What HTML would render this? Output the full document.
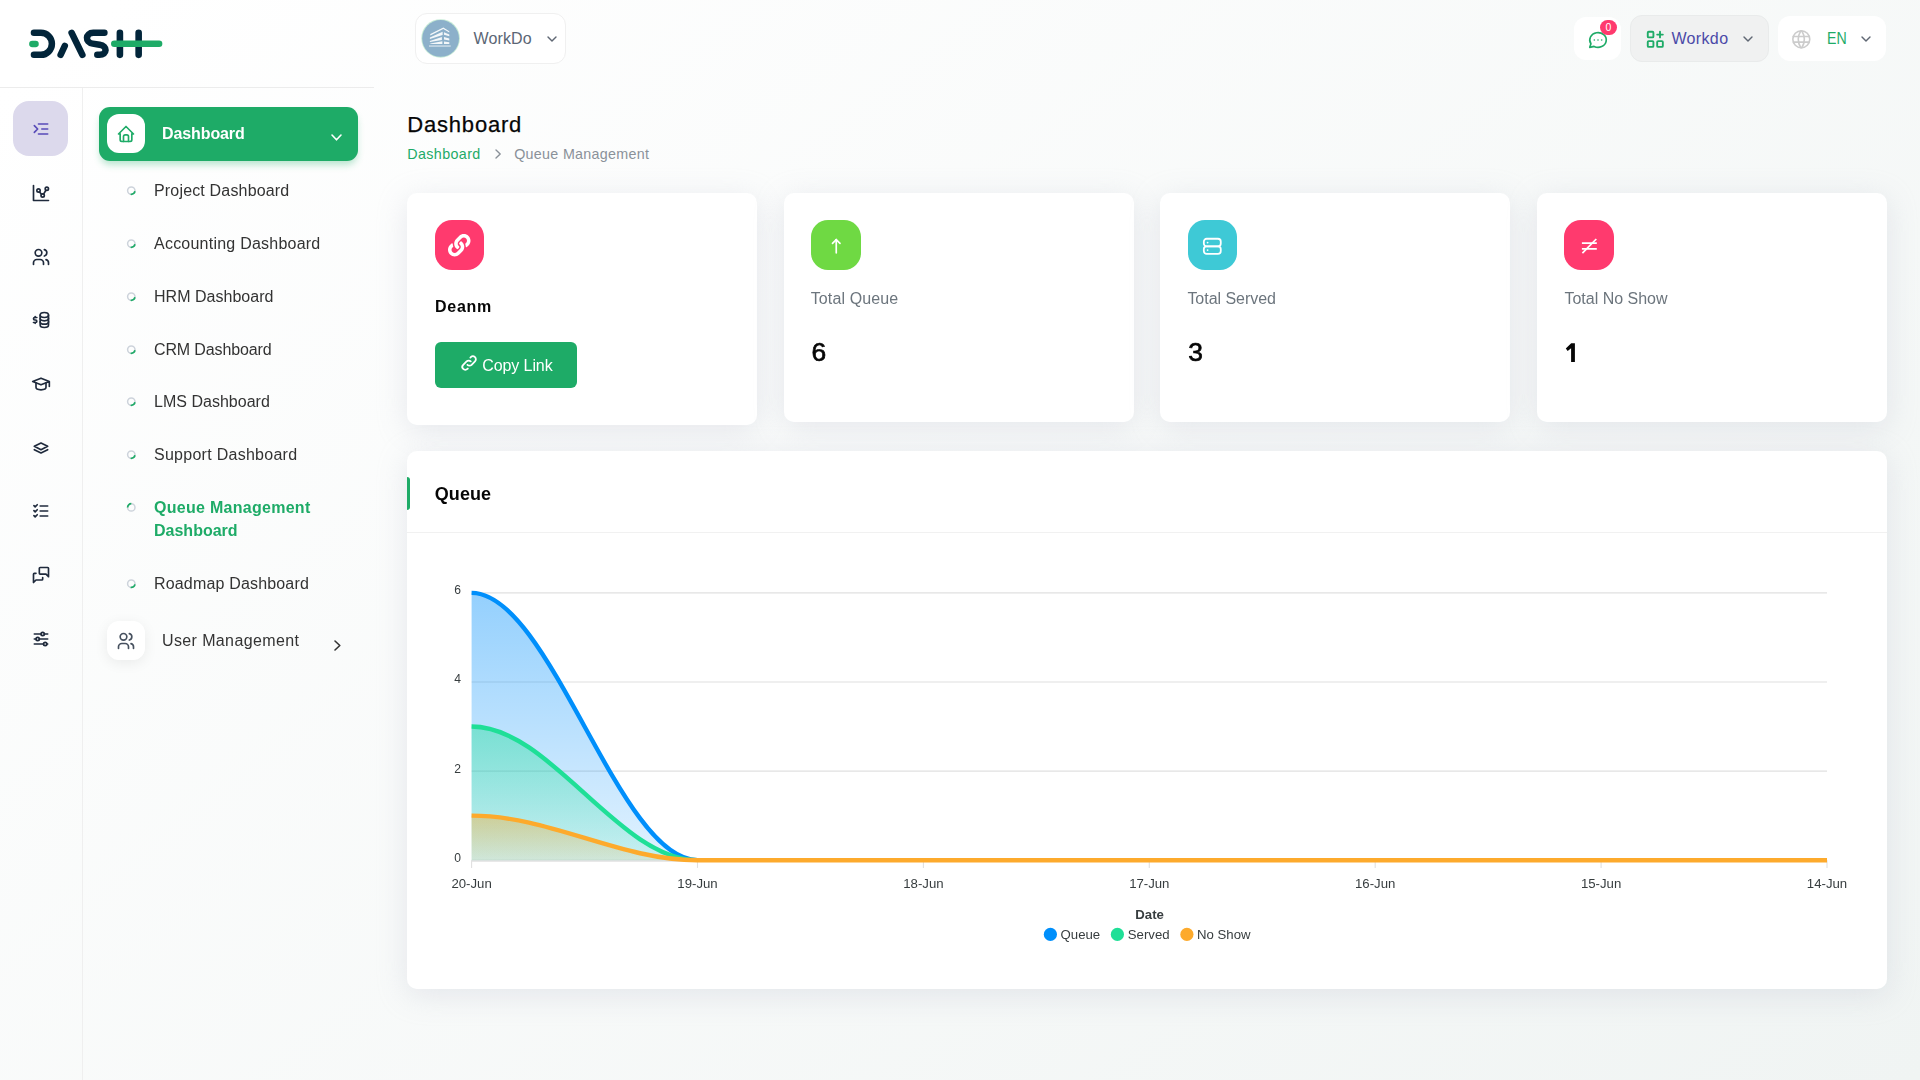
<!DOCTYPE html>
<html lang="en"><head><meta charset="utf-8"><title>Dashboard</title>
<style>
*{box-sizing:border-box}
html,body{margin:0;padding:0}
body{width:1920px;height:1080px;overflow:hidden;position:relative;font-family:"Liberation Sans",sans-serif;
background:linear-gradient(141.55deg,rgba(240,244,243,0) 3.46%,#f0f4f3 99.86%),#fff;}
.abs,.ic,.t{position:absolute}
.ic{display:block;overflow:visible}
.t{white-space:nowrap;line-height:1;}
.sub{will-change:transform}
.card{position:absolute;background:#fff;border-radius:10px;box-shadow:0 6px 30px rgba(182,186,203,.3)}
.ib{position:absolute;border-radius:17px}
</style></head><body>

<div class="abs" style="left:0;top:87px;width:374px;height:1px;background:#ececec"></div>
<div class="abs" style="left:82px;top:88px;width:1px;height:992px;background:#efefef"></div>
<svg class="ic" style="left:0;top:0" width="200" height="80" viewBox="0 0 200 80" fill="none" stroke-linecap="round" stroke-linejoin="round" stroke-width="6.5">
<g stroke="#02253a">
<path d="M33.95 32.85H40.9A11 11 0 0 1 40.9 54.85H33.95"/>
<path d="M60.6 54.9L64.8 45.9"/>
<path d="M71.6 32.8L82.4 54.9"/>
<path d="M104.4 32.85H93.2C85.2 32.85 84.8 42.4 92.6 43.6L99.6 44.7C107.8 46 107.4 54.85 99.4 54.85H97.3"/>
<path d="M119.9 32.85V54.85M138.65 32.85V54.85" stroke-width="6.6"/>
</g>
<g stroke="#1eab67">
<path d="M32.3 44H35.6" stroke-width="6.3"/>
<path d="M114.3 43.65H159.1" stroke-width="6.5"/>
</g></svg>
<div class="abs" style="left:13px;top:101px;width:55px;height:55px;border-radius:16px;background:#dcd9ec"></div>
<svg class="ic" style="left:30.8px;top:119.30000000000001px" width="20" height="20" viewBox="0 0 24 24" fill="none" stroke="#574ab8" stroke-width="2" stroke-linecap="round" stroke-linejoin="round" ><path d="M20 6l-11 0"/><path d="M20 12l-7 0"/><path d="M20 18l-11 0"/><path d="M4 8l4 4l-4 4"/></svg>
<svg class="ic" style="left:30.5px;top:183px" width="20" height="20" viewBox="0 0 24 24" fill="none" stroke="#1f2a3c" stroke-width="2" stroke-linecap="round" stroke-linejoin="round" ><path d="M3 3v18h18"/><path d="M9 9m-2 0a2 2 0 1 0 4 0a2 2 0 1 0 -4 0"/><path d="M19 7m-2 0a2 2 0 1 0 4 0a2 2 0 1 0 -4 0"/><path d="M14 15m-2 0a2 2 0 1 0 4 0a2 2 0 1 0 -4 0"/><path d="M10.16 10.62l2.34 2.88"/><path d="M15.088 13.328l2.837 -4.586"/></svg>
<svg class="ic" style="left:30.5px;top:246.6px" width="20" height="20" viewBox="0 0 24 24" fill="none" stroke="#1f2a3c" stroke-width="2" stroke-linecap="round" stroke-linejoin="round" ><path d="M9 7m-4 0a4 4 0 1 0 8 0a4 4 0 1 0 -8 0"/><path d="M3 21v-2a4 4 0 0 1 4 -4h4a4 4 0 0 1 4 4v2"/><path d="M16 3.13a4 4 0 0 1 0 7.75"/><path d="M21 21v-2a4 4 0 0 0 -3 -3.85"/></svg>
<svg class="ic" style="left:30.5px;top:310px" width="20" height="20" viewBox="0 0 24 24" fill="none" stroke="#1f2a3c" stroke-width="2" stroke-linecap="round" stroke-linejoin="round" ><path d="M16 6m-5 0a5 3 0 1 0 10 0a5 3 0 1 0 -10 0"/><path d="M11 6v4c0 1.657 2.239 3 5 3s5 -1.343 5 -3v-4"/><path d="M11 10v4c0 1.657 2.239 3 5 3s5 -1.343 5 -3v-4"/><path d="M11 14v4c0 1.657 2.239 3 5 3s5 -1.343 5 -3v-4"/><path d="M7 9h-2.5a1.5 1.5 0 0 0 0 3h1a1.5 1.5 0 0 1 0 3h-2.5"/><path d="M5 15v1m0 -8v1"/></svg>
<svg class="ic" style="left:30.5px;top:374.25px" width="20" height="20" viewBox="0 0 24 24" fill="none" stroke="#1f2a3c" stroke-width="2" stroke-linecap="round" stroke-linejoin="round" ><path d="M22 9l-10 -4l-10 4l10 4l10 -4v6"/><path d="M6 10.6v5.4a6 3 0 0 0 12 0v-5.4"/></svg>
<svg class="ic" style="left:30.5px;top:438px" width="20" height="20" viewBox="0 0 24 24" fill="none" stroke="#1f2a3c" stroke-width="2" stroke-linecap="round" stroke-linejoin="round" ><path d="M12 6l-8 4l8 4l8 -4l-8 -4"/><path d="M4 14l8 4l8 -4"/></svg>
<svg class="ic" style="left:30.5px;top:501px" width="20" height="20" viewBox="0 0 24 24" fill="none" stroke="#1f2a3c" stroke-width="2" stroke-linecap="round" stroke-linejoin="round" ><path d="M3.5 5.5l1.5 1.5l2.5 -2.5"/><path d="M3.5 11.5l1.5 1.5l2.5 -2.5"/><path d="M3.5 17.5l1.5 1.5l2.5 -2.5"/><path d="M11 6l9 0"/><path d="M11 12l9 0"/><path d="M11 18l9 0"/></svg>
<svg class="ic" style="left:30.5px;top:564.8px" width="20" height="20" viewBox="0 0 24 24" fill="none" stroke="#1f2a3c" stroke-width="2" stroke-linecap="round" stroke-linejoin="round" ><path d="M21 14l-3 -3h-7a1 1 0 0 1 -1 -1v-6a1 1 0 0 1 1 -1h9a1 1 0 0 1 1 1v10"/><path d="M14 15v2a1 1 0 0 1 -1 1h-7l-3 3v-10a1 1 0 0 1 1 -1h2"/></svg>
<svg class="ic" style="left:30.5px;top:629.25px" width="20" height="20" viewBox="0 0 24 24" fill="none" stroke="#1f2a3c" stroke-width="2" stroke-linecap="round" stroke-linejoin="round" ><path d="M14 6m-2 0a2 2 0 1 0 4 0a2 2 0 1 0 -4 0"/><path d="M4 6l8 0"/><path d="M16 6l4 0"/><path d="M8 12m-2 0a2 2 0 1 0 4 0a2 2 0 1 0 -4 0"/><path d="M4 12l2 0"/><path d="M10 12l10 0"/><path d="M17 18m-2 0a2 2 0 1 0 4 0a2 2 0 1 0 -4 0"/><path d="M4 18l11 0"/><path d="M19 18l1 0"/></svg>
<div class="abs" style="left:99px;top:107px;width:259px;height:54px;border-radius:11px;background:#1eab67;box-shadow:0 5px 7px -1px rgba(30,171,103,.3)"></div>
<div class="abs" style="left:107px;top:114px;width:38px;height:39px;border-radius:12px;background:#fff"></div>
<svg class="ic" style="left:116px;top:124px" width="20" height="20" viewBox="0 0 24 24" fill="none" stroke="#1eab67" stroke-width="2" stroke-linecap="round" stroke-linejoin="round" ><path d="M5 12l-2 0l9 -9l9 9l-2 0"/><path d="M5 12v7a2 2 0 0 0 2 2h10a2 2 0 0 0 2 -2v-7"/><path d="M9 21v-6a2 2 0 0 1 2 -2h2a2 2 0 0 1 2 2v6"/></svg>
<div class="t sub" style="left:162.4px;top:125px;line-height:17px;font-size:16px;color:#fff;font-weight:700;letter-spacing:-0.1px;">Dashboard</div>
<svg class="ic" style="left:330.0px;top:133.2px" width="13" height="8.8" viewBox="-2 -2 13 8.8" fill="none" stroke="#fff" stroke-width="1.6" stroke-linecap="round" stroke-linejoin="round"><path d="M0 0L4.5 4.8L9 0"/></svg>
<svg class="ic" style="left:0;top:0" width="374" height="700" fill="none" stroke-width="1.5"><circle cx="131.3" cy="190.6" r="3.7" stroke="#cdd3db"/><path d="M134.94 191.24A3.7 3.7 0 0 1 130.66 194.24" stroke="#1eab67" stroke-width="1.7"/></svg>
<div class="t sub" style="left:154.3px;top:182px;line-height:17px;font-size:16px;color:#333;font-weight:400;letter-spacing:0.17px;">Project Dashboard</div>
<svg class="ic" style="left:0;top:0" width="374" height="700" fill="none" stroke-width="1.5"><circle cx="131.3" cy="243.6" r="3.7" stroke="#cdd3db"/><path d="M134.94 244.24A3.7 3.7 0 0 1 130.66 247.24" stroke="#1eab67" stroke-width="1.7"/></svg>
<div class="t sub" style="left:154.3px;top:235px;line-height:17px;font-size:16px;color:#333;font-weight:400;letter-spacing:0.23px;">Accounting Dashboard</div>
<svg class="ic" style="left:0;top:0" width="374" height="700" fill="none" stroke-width="1.5"><circle cx="131.3" cy="296.6" r="3.7" stroke="#cdd3db"/><path d="M134.94 297.24A3.7 3.7 0 0 1 130.66 300.24" stroke="#1eab67" stroke-width="1.7"/></svg>
<div class="t sub" style="left:154.3px;top:288px;line-height:17px;font-size:16px;color:#333;font-weight:400;letter-spacing:0.02px;">HRM Dashboard</div>
<svg class="ic" style="left:0;top:0" width="374" height="700" fill="none" stroke-width="1.5"><circle cx="131.3" cy="349.6" r="3.7" stroke="#cdd3db"/><path d="M134.94 350.24A3.7 3.7 0 0 1 130.66 353.24" stroke="#1eab67" stroke-width="1.7"/></svg>
<div class="t sub" style="left:154.3px;top:341px;line-height:17px;font-size:16px;color:#333;font-weight:400;letter-spacing:-0.13px;">CRM Dashboard</div>
<svg class="ic" style="left:0;top:0" width="374" height="700" fill="none" stroke-width="1.5"><circle cx="131.3" cy="401.6" r="3.7" stroke="#cdd3db"/><path d="M134.94 402.24A3.7 3.7 0 0 1 130.66 405.24" stroke="#1eab67" stroke-width="1.7"/></svg>
<div class="t sub" style="left:154.3px;top:393px;line-height:17px;font-size:16px;color:#333;font-weight:400;letter-spacing:0.02px;">LMS Dashboard</div>
<svg class="ic" style="left:0;top:0" width="374" height="700" fill="none" stroke-width="1.5"><circle cx="131.3" cy="454.6" r="3.7" stroke="#cdd3db"/><path d="M134.94 455.24A3.7 3.7 0 0 1 130.66 458.24" stroke="#1eab67" stroke-width="1.7"/></svg>
<div class="t sub" style="left:154.3px;top:446px;line-height:17px;font-size:16px;color:#333;font-weight:400;letter-spacing:0.27px;">Support Dashboard</div>
<svg class="ic" style="left:0;top:0" width="374" height="700" fill="none" stroke-width="1.5"><circle cx="131.3" cy="507.4" r="3.7" stroke="#cdd3db"/><path d="M127.60 507.40A3.7 3.7 0 0 1 131.30 503.70" stroke="#1eab67" stroke-width="1.7"/></svg>
<div class="t sub" style="left:154.0px;top:499px;line-height:17px;font-size:16px;color:#1eab67;font-weight:700;letter-spacing:0.28px;">Queue Management</div>
<div class="t sub" style="left:154.0px;top:522px;line-height:17px;font-size:16px;color:#1eab67;font-weight:700;letter-spacing:0px;">Dashboard</div>
<svg class="ic" style="left:0;top:0" width="374" height="700" fill="none" stroke-width="1.5"><circle cx="131.3" cy="583.7" r="3.7" stroke="#cdd3db"/><path d="M134.94 584.34A3.7 3.7 0 0 1 130.66 587.34" stroke="#1eab67" stroke-width="1.7"/></svg>
<div class="t sub" style="left:154.2px;top:575px;line-height:17px;font-size:16px;color:#333;font-weight:400;letter-spacing:0.17px;">Roadmap Dashboard</div>
<div class="abs" style="left:107px;top:621px;width:38px;height:38.5px;border-radius:12px;background:#fff;box-shadow:0 3px 14px rgba(0,0,0,.07)"></div>
<svg class="ic" style="left:116px;top:630.5px" width="20" height="20" viewBox="0 0 24 24" fill="none" stroke="#47515f" stroke-width="2" stroke-linecap="round" stroke-linejoin="round" ><path d="M9 7m-4 0a4 4 0 1 0 8 0a4 4 0 1 0 -8 0"/><path d="M3 21v-2a4 4 0 0 1 4 -4h4a4 4 0 0 1 4 4v2"/><path d="M16 3.13a4 4 0 0 1 0 7.75"/><path d="M21 21v-2a4 4 0 0 0 -3 -3.85"/></svg>
<div class="t sub" style="left:161.6px;top:632px;line-height:17px;font-size:16px;color:#333;font-weight:400;letter-spacing:0.38px;">User Management</div>
<svg class="ic" style="left:333.40000000000003px;top:639.0px" width="8.8" height="13" viewBox="-2 -2 8.8 13" fill="none" stroke="#333" stroke-width="1.6" stroke-linecap="round" stroke-linejoin="round"><path d="M0 0L4.8 4.5L0 9"/></svg>
<div class="abs" style="left:415px;top:13px;width:151px;height:51px;border-radius:12px;background:#fff;border:1px solid #f0f0f0"></div>
<svg class="ic" style="left:416px;top:14px" width="50" height="50" viewBox="0 0 50 50">
<circle cx="24.6" cy="24.45" r="19.3" fill="#c6ebd6"/>
<circle cx="24.6" cy="24.45" r="18.4" fill="#8cb0ca"/>
<g fill="#fff" opacity=".9">
<path d="M14.3 21.4L27.3 15L33.3 18.6L33.3 17.3L27.3 13.6L14.3 20z"/>
<path d="M13.9 23.6L26.6 17.8V21.1L13.9 25z"/>
<path d="M13.9 27.1L25.9 23.1V25.9L13.9 28z"/>
<path d="M14.3 29.6L26.4 27.3V30.1H14.3z"/>
<path d="M28 18.3L33.3 20.4V22.2L28 20.8z"/>
<path d="M28 23.1L33.3 24.5V26.4L28 25.5z"/>
<path d="M28 27.5L33.3 28.2V30.1H28z"/>
<path d="M13 31.2H34.7V32.9H13z" opacity=".55"/>
</g></svg>
<div class="t " style="left:473.6px;top:30px;line-height:17px;font-size:16px;color:#5b6675;font-weight:400;letter-spacing:0.1px;">WorkDo</div>
<svg class="ic" style="left:545.6px;top:34.7px" width="12.0" height="8.1" viewBox="-2 -2 12.0 8.1" fill="none" stroke="#5f6773" stroke-width="1.4" stroke-linecap="round" stroke-linejoin="round"><path d="M0 0L4.0 4.1L8.0 0"/></svg>
<div class="abs" style="left:1574px;top:17px;width:47px;height:43px;border-radius:12px;background:#fff"></div>
<svg class="ic" style="left:1586.6px;top:29.0px" width="22" height="22" viewBox="0 0 24 24" fill="none" stroke="#1eab67" stroke-width="1.8" stroke-linecap="round" stroke-linejoin="round" ><path d="M3 20l1.3 -3.9a9 8 0 1 1 3.4 2.9l-4.7 1"/><path d="M12 12l0 .01"/><path d="M8 12l0 .01"/><path d="M16 12l0 .01"/></svg>
<div class="abs" style="left:1600px;top:20px;width:17px;height:15px;border-radius:8px;background:#ff3a6e"></div>
<div class="t " style="left:1605.6px;top:21px;line-height:12px;font-size:10.5px;color:#fff;font-weight:400;letter-spacing:0px;">0</div>
<div class="abs" style="left:1630px;top:15px;width:139px;height:47px;border-radius:12px;background:#f0f1f1;border:1px solid #e9ebeb"></div>
<svg class="ic" style="left:1643.6px;top:28.1px" width="22.6" height="22.6" viewBox="0 0 24 24" fill="none" stroke="#1eab67" stroke-width="2" stroke-linecap="round" stroke-linejoin="round" ><path d="M4 4m0 1a1 1 0 0 1 1 -1h4a1 1 0 0 1 1 1v4a1 1 0 0 1 -1 1h-4a1 1 0 0 1 -1 -1z"/><path d="M4 14m0 1a1 1 0 0 1 1 -1h4a1 1 0 0 1 1 1v4a1 1 0 0 1 -1 1h-4a1 1 0 0 1 -1 -1z"/><path d="M14 14m0 1a1 1 0 0 1 1 -1h4a1 1 0 0 1 1 1v4a1 1 0 0 1 -1 1h-4a1 1 0 0 1 -1 -1z"/><path d="M14 7l6 0"/><path d="M17 4l0 6"/></svg>
<div class="t " style="left:1671.4px;top:30px;line-height:17px;font-size:16px;color:#4b4aa8;font-weight:400;letter-spacing:0.36px;">Workdo</div>
<svg class="ic" style="left:1741.5px;top:34.7px" width="12.0" height="8.1" viewBox="-2 -2 12.0 8.1" fill="none" stroke="#5f6773" stroke-width="1.4" stroke-linecap="round" stroke-linejoin="round"><path d="M0 0L4.0 4.1L8.0 0"/></svg>
<div class="abs" style="left:1778px;top:15.7px;width:108px;height:45.5px;border-radius:12px;background:#fff"></div>
<svg class="ic" style="left:1790.2px;top:27.7px" width="22.6" height="22.6" viewBox="0 0 24 24" fill="none" stroke="#cccccc" stroke-width="1.7" stroke-linecap="round" stroke-linejoin="round" ><path d="M3 12a9 9 0 1 0 18 0a9 9 0 0 0 -18 0"/><path d="M3.6 9h16.8"/><path d="M3.6 15h16.8"/><path d="M11.5 3a17 17 0 0 0 0 18"/><path d="M12.5 3a17 17 0 0 1 0 18"/></svg>
<div class="t " style="left:1826.6px;top:30px;line-height:17px;font-size:16px;color:#1eab67;font-weight:400;letter-spacing:0px;transform:scaleX(0.885);transform-origin:0 0;">EN</div>
<svg class="ic" style="left:1860.1px;top:34.7px" width="12.0" height="8.1" viewBox="-2 -2 12.0 8.1" fill="none" stroke="#5f6773" stroke-width="1.4" stroke-linecap="round" stroke-linejoin="round"><path d="M0 0L4.0 4.1L8.0 0"/></svg>
<div class="t " style="left:407.3px;top:112px;line-height:25px;font-size:22px;color:#060606;font-weight:400;letter-spacing:0.8px;-webkit-text-stroke:.25px #060606;">Dashboard</div>
<div class="t " style="left:407.3px;top:146px;line-height:16px;font-size:14.3px;color:#1eab67;font-weight:400;letter-spacing:0.38px;">Dashboard</div>
<svg class="ic" style="left:493.5px;top:147.6px" width="8.2" height="12" viewBox="-2 -2 8.2 12" fill="none" stroke="#8a9199" stroke-width="1.4" stroke-linecap="round" stroke-linejoin="round"><path d="M0 0L4.2 4.0L0 8"/></svg>
<div class="t " style="left:514.2px;top:146px;line-height:16px;font-size:14.3px;color:#8a9199;font-weight:400;letter-spacing:0.3px;">Queue Management</div>
<div class="card" style="left:407px;top:193px;width:350px;height:231.5px"></div>
<div class="card" style="left:783.67px;top:193px;width:350px;height:228.5px"></div>
<div class="card" style="left:1160.33px;top:193px;width:350px;height:228.5px"></div>
<div class="card" style="left:1537px;top:193px;width:350px;height:228.5px"></div>
<div class="ib" style="left:435px;top:220px;width:49px;height:50px;background:#ff3a6e"></div>
<svg class="ic" style="left:448px;top:233.8px" width="22.5" height="22.5" viewBox="0 0 512 512" fill="#fff"><path d="M326.612 185.391c59.747 59.809 58.927 155.698.36 214.59-.11.12-.24.25-.36.37l-67.2 67.2c-59.27 59.27-155.699 59.262-214.96 0-59.27-59.26-59.27-155.7 0-214.96l37.106-37.106c9.84-9.84 26.786-3.3 27.294 10.606.648 17.722 3.826 35.527 9.69 52.721 1.986 5.822.567 12.262-3.783 16.612l-13.087 13.087c-28.026 28.026-28.905 73.66-1.155 101.96 28.024 28.579 74.086 28.749 102.325.51l67.2-67.19c28.191-28.191 28.073-73.757 0-101.83-3.701-3.694-7.429-6.564-10.341-8.569a16.037 16.037 0 0 1-6.947-12.606c-.396-10.567 3.348-21.456 11.698-29.806l21.054-21.055c5.521-5.521 14.182-6.199 20.584-1.731a152.482 152.482 0 0 1 20.522 17.197zM467.547 44.449c-59.261-59.262-155.69-59.27-214.96 0l-67.2 67.2c-.12.12-.25.25-.36.37-58.566 58.892-59.387 154.781.36 214.59a152.454 152.454 0 0 0 20.521 17.196c6.402 4.468 15.064 3.789 20.584-1.731l21.054-21.055c8.35-8.35 12.094-19.239 11.698-29.806a16.037 16.037 0 0 0-6.947-12.606c-2.912-2.005-6.64-4.875-10.341-8.569-28.073-28.073-28.191-73.639 0-101.83l67.2-67.19c28.239-28.239 74.3-28.069 102.325.51 27.75 28.3 26.872 73.934-1.155 101.96l-13.087 13.087c-4.35 4.35-5.769 10.79-3.783 16.612 5.864 17.194 9.042 34.999 9.69 52.721.509 13.906 17.454 20.446 27.294 10.606l37.106-37.106c59.271-59.259 59.271-155.699.001-214.959z"/></svg>
<div class="t " style="left:435.0px;top:298px;line-height:17px;font-size:16px;color:#060606;font-weight:700;letter-spacing:0.72px;">Deanm</div>
<div class="abs" style="left:435px;top:342px;width:142px;height:46px;border-radius:6px;background:#1eab67"></div>
<svg class="ic" style="left:458.7px;top:353.3px" width="20.2" height="20.2" viewBox="0 0 24 24" fill="none" stroke="#fff" stroke-width="2.1" stroke-linecap="round" stroke-linejoin="round" ><path d="M10 14a3.5 3.5 0 0 0 5 0l4 -4a3.5 3.5 0 0 0 -5 -5l-.5 .5"/><path d="M14 10a3.5 3.5 0 0 0 -5 0l-4 4a3.5 3.5 0 0 0 5 5l.5 -.5"/></svg>
<div class="t " style="left:482.3px;top:357px;line-height:17px;font-size:16px;color:#fff;font-weight:400;letter-spacing:-0.1px;">Copy Link</div>
<div class="ib" style="left:811.2px;top:220px;width:49.6px;height:50px;background:#6fd943"></div>
<svg class="ic" style="left:824.8px;top:235.2px" width="22.5" height="22.5" viewBox="0 0 24 24" fill="none" stroke="#fff" stroke-width="1.8" stroke-linecap="round" stroke-linejoin="round" ><path d="M12 5l0 14"/><path d="M16 9l-4 -4"/><path d="M8 9l4 -4"/></svg>
<div class="t " style="left:810.7px;top:290px;line-height:17px;font-size:16px;color:#6c757d;font-weight:400;letter-spacing:0.12px;">Total Queue</div>
<div class="t " style="left:811.4px;top:337px;line-height:30px;font-size:26.4px;color:#060606;font-weight:400;letter-spacing:0px;-webkit-text-stroke:.7px #060606;">6</div>
<div class="ib" style="left:1188px;top:220px;width:49.4px;height:50px;background:#3ec9d6"></div>
<svg class="ic" style="left:1201.2px;top:235.1px" width="22.6" height="22.6" viewBox="0 0 24 24" fill="none" stroke="#fff" stroke-width="1.9" stroke-linecap="round" stroke-linejoin="round" ><path d="M3 4m0 3a3 3 0 0 1 3 -3h12a3 3 0 0 1 3 3v2a3 3 0 0 1 -3 3h-12a3 3 0 0 1 -3 -3z"/><path d="M3 12m0 3a3 3 0 0 1 3 -3h12a3 3 0 0 1 3 3v2a3 3 0 0 1 -3 3h-12a3 3 0 0 1 -3 -3z"/><path d="M7 8l0 .01"/><path d="M7 16l0 .01"/></svg>
<div class="t " style="left:1187.4px;top:290px;line-height:17px;font-size:16px;color:#6c757d;font-weight:400;letter-spacing:-0.03px;">Total Served</div>
<div class="t " style="left:1188.2px;top:337px;line-height:30px;font-size:26.4px;color:#060606;font-weight:400;letter-spacing:0px;-webkit-text-stroke:.7px #060606;">3</div>
<div class="ib" style="left:1564.2px;top:220px;width:49.8px;height:50px;background:#ff3a6e"></div>
<svg class="ic" style="left:1564px;top:220px" width="50" height="50" viewBox="1564 220 50 50" fill="none" stroke="#fff" stroke-width="1.9">
<path d="M1581.9 243.1H1596.8M1581.9 248.9H1596.8"/><path d="M1582.4 253.2L1596.3 239" stroke-width="1.7"/></svg>
<div class="t " style="left:1564.4px;top:290px;line-height:17px;font-size:16px;color:#6c757d;font-weight:400;letter-spacing:0px;">Total No Show</div>
<svg class="ic" style="left:1560px;top:340px" width="24" height="26" viewBox="1560 340 24 26"><path d="M1571.2 343.2H1574.9V362H1571.1V348.2L1567.7 351L1565.8 348.6Z" fill="#060606"/></svg>
<div class="card" style="left:407px;top:451px;width:1480px;height:538px"></div>
<div class="abs" style="left:407px;top:477px;width:3px;height:33px;background:#1eab67;border-radius:0 3px 3px 0"></div>
<div class="t " style="left:434.8px;top:484px;line-height:20px;font-size:18px;color:#060606;font-weight:700;letter-spacing:0.05px;">Queue</div>
<div class="abs" style="left:407px;top:532px;width:1480px;height:1px;background:#f1f1f1"></div>
<svg class="ic" style="left:0;top:0" width="1920" height="1080" viewBox="0 0 1920 1080" font-family="Liberation Sans, sans-serif"><defs><linearGradient id="gb" x1="0" y1="0" x2="0" y2="1"><stop offset="0" stop-color="#008ffb" stop-opacity=".42"/><stop offset="1" stop-color="#008ffb" stop-opacity=".12"/></linearGradient><linearGradient id="gg" x1="0" y1="0" x2="0" y2="1"><stop offset="0" stop-color="#1fdf97" stop-opacity=".42"/><stop offset="1" stop-color="#1fdf97" stop-opacity=".12"/></linearGradient><linearGradient id="go" x1="0" y1="0" x2="0" y2="1"><stop offset="0" stop-color="#fdaa2c" stop-opacity=".42"/><stop offset="1" stop-color="#fdaa2c" stop-opacity=".12"/></linearGradient><clipPath id="cl"><rect x="468.6" y="500" width="1361.4" height="361.10"/></clipPath></defs><line x1="471.6" x2="1827.0" y1="860.20" y2="860.20" stroke="#e0e0e0" stroke-width="1.1"/><line x1="471.6" x2="1827.0" y1="771.10" y2="771.10" stroke="#e0e0e0" stroke-width="1.1"/><line x1="471.6" x2="1827.0" y1="682.00" y2="682.00" stroke="#e0e0e0" stroke-width="1.1"/><line x1="471.6" x2="1827.0" y1="592.90" y2="592.90" stroke="#e0e0e0" stroke-width="1.1"/><line x1="471.6" x2="1827.0" y1="861.3000000000001" y2="861.3000000000001" stroke="#e0e0e0" stroke-width="1.1"/><line x1="471.60" x2="471.60" y1="860.2" y2="867.9000000000001" stroke="#e0e0e0" stroke-width="1.1"/><line x1="697.50" x2="697.50" y1="860.2" y2="867.9000000000001" stroke="#e0e0e0" stroke-width="1.1"/><line x1="923.40" x2="923.40" y1="860.2" y2="867.9000000000001" stroke="#e0e0e0" stroke-width="1.1"/><line x1="1149.30" x2="1149.30" y1="860.2" y2="867.9000000000001" stroke="#e0e0e0" stroke-width="1.1"/><line x1="1375.20" x2="1375.20" y1="860.2" y2="867.9000000000001" stroke="#e0e0e0" stroke-width="1.1"/><line x1="1601.10" x2="1601.10" y1="860.2" y2="867.9000000000001" stroke="#e0e0e0" stroke-width="1.1"/><line x1="1827.00" x2="1827.00" y1="860.2" y2="867.9000000000001" stroke="#e0e0e0" stroke-width="1.1"/><path d="M471.60 592.90C550.21 592.90 618.89 860.20 697.50 860.20H1827.0V860.2H471.6Z" fill="url(#gb)" stroke="none"/><path d="M471.60 592.90C550.21 592.90 618.89 860.20 697.50 860.20" fill="none" stroke="#008ffb" stroke-width="4.4" stroke-linecap="butt" clip-path="url(#cl)"/><path d="M471.60 726.55C550.21 726.55 618.89 860.20 697.50 860.20H1827.0V860.2H471.6Z" fill="url(#gg)" stroke="none"/><path d="M471.60 726.55C550.21 726.55 618.89 860.20 697.50 860.20" fill="none" stroke="#1fdf97" stroke-width="4.4" stroke-linecap="butt" clip-path="url(#cl)"/><path d="M471.60 815.65C550.21 815.65 618.89 860.20 697.50 860.20H1827.0V860.2H471.6Z" fill="url(#go)" stroke="none"/><path d="M471.60 815.65C550.21 815.65 618.89 860.20 697.50 860.20H1827.0" fill="none" stroke="#fdaa2c" stroke-width="4.4" stroke-linecap="butt"/><text x="460.9" y="861.65" text-anchor="end" font-size="12.1" fill="#373d3f">0</text><text x="460.9" y="772.55" text-anchor="end" font-size="12.1" fill="#373d3f">2</text><text x="460.9" y="683.45" text-anchor="end" font-size="12.1" fill="#373d3f">4</text><text x="460.9" y="594.35" text-anchor="end" font-size="12.1" fill="#373d3f">6</text><text x="471.60" y="888" text-anchor="middle" font-size="13.2" fill="#373d3f">20-Jun</text><text x="697.50" y="888" text-anchor="middle" font-size="13.2" fill="#373d3f">19-Jun</text><text x="923.40" y="888" text-anchor="middle" font-size="13.2" fill="#373d3f">18-Jun</text><text x="1149.30" y="888" text-anchor="middle" font-size="13.2" fill="#373d3f">17-Jun</text><text x="1375.20" y="888" text-anchor="middle" font-size="13.2" fill="#373d3f">16-Jun</text><text x="1601.10" y="888" text-anchor="middle" font-size="13.2" fill="#373d3f">15-Jun</text><text x="1827.00" y="888" text-anchor="middle" font-size="13.2" fill="#373d3f">14-Jun</text><text x="1149.6" y="919" text-anchor="middle" font-size="13.2" font-weight="700" fill="#373d3f">Date</text><circle cx="1050.4" cy="934.4" r="6.6" fill="#008ffb"/><text x="1060.6" y="938.6" font-size="13.2" fill="#373d3f">Queue</text><circle cx="1117.4" cy="934.4" r="6.6" fill="#1fdf97"/><text x="1127.8" y="938.6" font-size="13.2" fill="#373d3f">Served</text><circle cx="1186.9" cy="934.4" r="6.6" fill="#fdaa2c"/><text x="1197.0" y="938.6" font-size="13.2" fill="#373d3f">No Show</text></svg>
</body></html>
